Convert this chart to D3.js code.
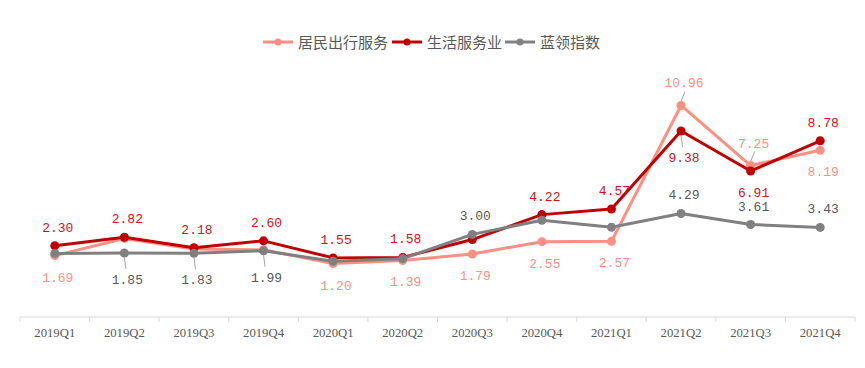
<!DOCTYPE html>
<html>
<head>
<meta charset="utf-8">
<script src="https://cdn.jsdelivr.net/npm/d3@7"></script>
<style>
  body { margin: 0; background: #fff; }
  svg { display: block; }
</style>
</head>
<body>
<script>
const quarters = ['2019Q1', '2019Q2', '2019Q3', '2019Q4', '2020Q1', '2020Q2',
  '2020Q3', '2020Q4', '2021Q1', '2021Q2', '2021Q3', '2021Q4'];
const seriesNames = ['居民出行服务', '生活服务业', '蓝领指数'];
const travelValues = [1.69, 2.75, 2.10, 2.05, 1.20, 1.39, 1.79, 2.55, 2.57, 10.96, 7.25, 8.19];
const lifeValues = [2.30, 2.82, 2.18, 2.60, 1.55, 1.58, 2.68, 4.22, 4.57, 9.38, 6.91, 8.78];
const blueValues = [1.82, 1.85, 1.83, 1.99, 1.34, 1.50, 3.00, 3.87, 3.44, 4.29, 3.61, 3.43];

const width = 865;
const height = 368;

// which points carry a label, and on which side ('u' above, 'd' below, 'dl'/'ul' with leader line)
const labelSide = [
  ['d', null, null, null, 'd', 'd', 'd', 'd', 'd', 'ul', 'ul', 'd'],
  ['u', 'u', 'u', 'u', 'u', 'u', null, 'u', 'u', 'dl', 'd', 'u'],
  [null, 'dl', 'dl', 'dl', null, null, 'u', null, null, 'u', 'u', 'u'],
];

const series = [
  { name: seriesNames[0], values: travelValues, color: '#ff8f82', text: '#ff8f82' },
  { name: seriesNames[1], values: lifeValues, color: '#c00000', text: '#d0121b' },
  { name: seriesNames[2], values: blueValues, color: '#808080', text: '#595959' },
];

const svg = d3.select('body').append('svg')
  .attr('width', width)
  .attr('height', height);

const x = d3.scaleBand()
  .domain(quarters)
  .range([20, 855]);

const y = d3.scaleLinear()
  .domain([-2.1, 12])
  .range([317, 88.6]);

const cx = d => x(d) + x.bandwidth() / 2;

// x axis
svg.append('line')
  .attr('x1', 20).attr('x2', 855)
  .attr('y1', 317).attr('y2', 317)
  .attr('stroke', '#d9d9d9');

svg.selectAll('.tick')
  .data(quarters.concat(['end']))
  .enter().append('line')
    .attr('class', 'tick')
    .attr('x1', (d, i) => 20 + i * x.step())
    .attr('x2', (d, i) => 20 + i * x.step())
    .attr('y1', 317).attr('y2', 322)
    .attr('stroke', '#d9d9d9');

svg.selectAll('.xlabel')
  .data(quarters)
  .enter().append('text')
    .attr('class', 'xlabel')
    .attr('x', cx)
    .attr('y', 337)
    .attr('text-anchor', 'middle')
    .attr('textLength', 41)
    .attr('lengthAdjust', 'spacingAndGlyphs')
    .style('font-family', '"Liberation Serif", serif')
    .style('font-size', '13px')
    .style('fill', '#595959')
    .text(d => d);

const line = d3.line()
  .x((d, i) => cx(quarters[i]))
  .y(d => y(d));

series.forEach((s) => {
  const g = svg.append('g');
  g.append('path')
    .attr('d', line(s.values))
    .attr('fill', 'none')
    .attr('stroke', s.color)
    .attr('stroke-width', 3)
    .attr('stroke-linejoin', 'round');
  g.selectAll('circle')
    .data(s.values)
    .enter().append('circle')
      .attr('cx', (d, i) => cx(quarters[i]))
      .attr('cy', d => y(d))
      .attr('r', 4.5)
      .attr('fill', s.color);
});

// data labels
series.forEach((s, si) => {
  s.values.forEach((v, i) => {
    const side = labelSide[si][i];
    if (!side) return;
    const px = cx(quarters[i]);
    const py = y(v);
    let ty;
    if (side === 'u') ty = py - 14;
    else if (side === 'd') ty = py + 26;
    else if (side === 'ul') ty = py - 18;
    else ty = py + 31;
    if (side === 'dl') {
      svg.append('line')
        .attr('x1', px).attr('y1', py + 4)
        .attr('x2', px + 1.5).attr('y2', py + 16)
        .attr('stroke', '#a6a6a6');
    }
    if (side === 'ul') {
      svg.append('line')
        .attr('x1', px).attr('y1', py - 4)
        .attr('x2', px + 4).attr('y2', py - 14)
        .attr('stroke', '#a6a6a6');
    }
    svg.append('text')
      .attr('x', px + 3)
      .attr('y', ty)
      .attr('text-anchor', 'middle')
      .style('font-family', '"Liberation Mono", monospace')
      .style('font-size', '13px')
      .style('fill', s.text)
      .text(v.toFixed(2));
  });
});

// legend
const legendX = [263, 392, 505];
series.forEach((s, i) => {
  const lg = svg.append('g').attr('transform', `translate(${legendX[i]},42)`);
  lg.append('line')
    .attr('x1', 0).attr('x2', 30)
    .attr('stroke', s.color)
    .attr('stroke-width', 3);
  lg.append('circle')
    .attr('cx', 15).attr('r', 3.5)
    .attr('fill', s.color);
  lg.append('text')
    .attr('x', 35)
    .attr('y', 5.5)
    .style('font-family', '"Noto Sans CJK SC", sans-serif')
    .style('font-size', '15px')
    .style('fill', '#595959')
    .text(s.name);
});
</script>
</body>
</html>
